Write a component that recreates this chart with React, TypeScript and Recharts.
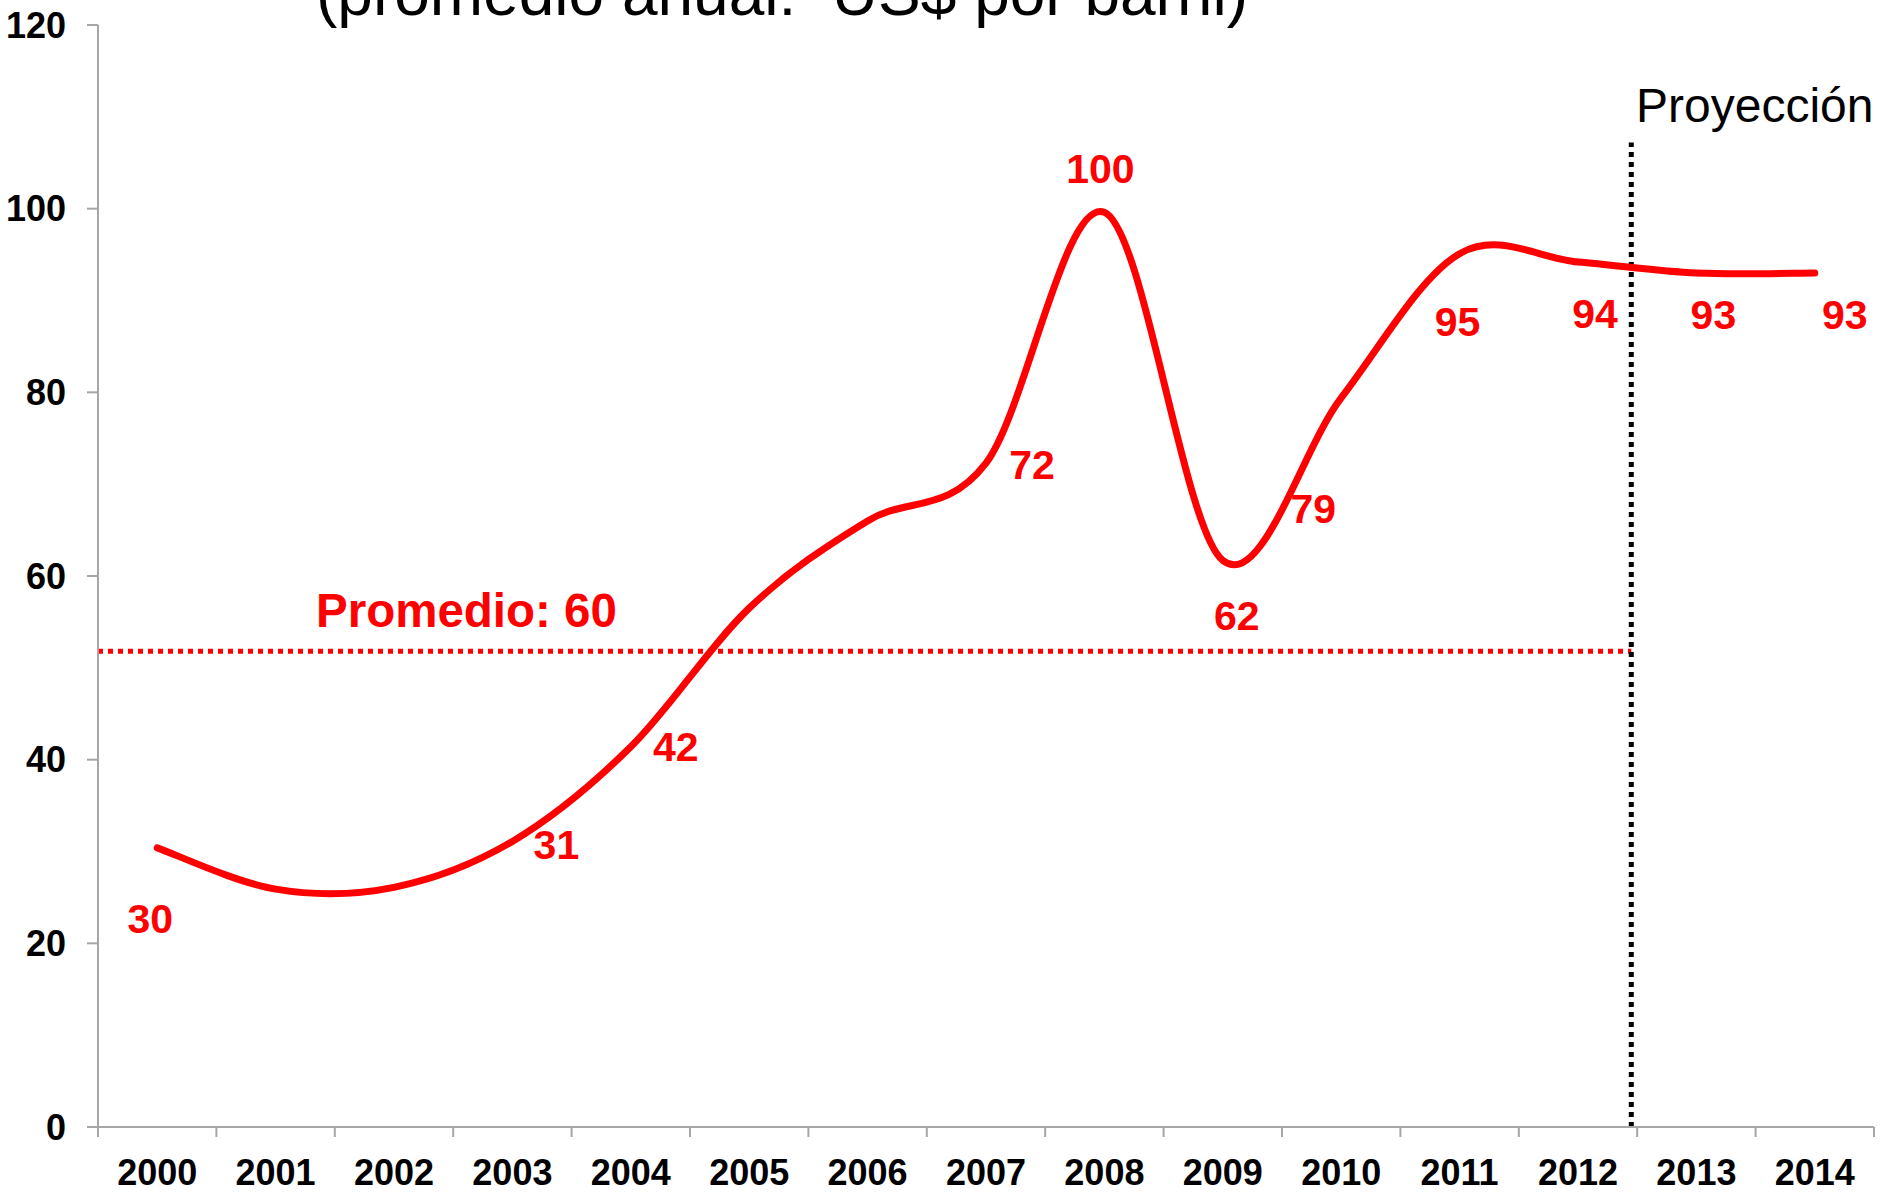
import React from "react";
import { LineChart, Line, XAxis, YAxis, ReferenceLine, LabelList } from "recharts";

const years = ["2000", "2001", "2002", "2003", "2004", "2005", "2006", "2007", "2008", "2009", "2010", "2011", "2012", "2013", "2014"];
const prices = [30.4, 25.9, 26.1, 31.1, 41.4, 56.5, 66.0, 72.3, 99.6, 61.7, 79.4, 95.1, 94.2, 93.0, 93.0];
const pointLabels = ["30", "", "", "31", "42", "", "", "72", "100", "62", "79", "95", "94", "93", "93"];
const yTicks = [0, 20, 40, 60, 80, 100, 120];
const averageLevel = 51.8;
const averageText = "Promedio: 60";
const projectionStart = 12.45;
const projectionTop = 107.2;
const titleText = "(promedio anual:  US$ por barril)";
const projectionText = "Proyección";

// label offsets (px) from each point, mimicking hand-placed labels
const labelOffsets: [number, number][] = [
  [-7, 71], [0, 0], [0, 0], [44, 3], [45, 0], [0, 0], [0, 0], [46, 1],
  [-4, -44], [14, 55], [-28, 111], [-2, 68], [17, 52], [17, 41], [30, 41],
];

const tableData = years.map((year, i) => ({ i, year, price: prices[i] }));
const boundaryTicks = Array.from({ length: years.length + 1 }, (_, k) => k - 0.5);
const centerTicks = years.map((_, i) => i);

const FONT = "'Liberation Sans', Arial, sans-serif";

// Excel-like smoothing (uniform Catmull-Rom as cubic Bezier)
function excelSmooth(context: any) {
  let pts: [number, number][] = [];
  return {
    areaStart() {},
    areaEnd() {},
    lineStart() {
      pts = [];
    },
    point(x: number, y: number) {
      pts.push([+x, +y]);
    },
    lineEnd() {
      const n = pts.length;
      if (n === 0) return;
      context.moveTo(pts[0][0], pts[0][1]);
      for (let k = 0; k < n - 1; k++) {
        const p0 = pts[Math.max(k - 1, 0)];
        const p1 = pts[k];
        const p2 = pts[k + 1];
        const p3 = pts[Math.min(k + 2, n - 1)];
        context.bezierCurveTo(
          p1[0] + (p2[0] - p0[0]) / 6,
          p1[1] + (p2[1] - p0[1]) / 6,
          p2[0] - (p3[0] - p1[0]) / 6,
          p2[1] - (p3[1] - p1[1]) / 6,
          p2[0],
          p2[1]
        );
      }
    },
  };
}

const renderPointLabel = (props: any) => {
  const { x, y, index } = props;
  const text = pointLabels[index];
  if (!text) return null;
  const [dx, dy] = labelOffsets[index];
  return (
    <text
      key={`pl-${index}`}
      x={x + dx}
      y={y + dy}
      dy="0.355em"
      textAnchor="middle"
      fill="#FF0000"
      fontFamily={FONT}
      fontWeight="bold"
      fontSize={41}
    >
      {text}
    </text>
  );
};

export default function App() {
  return (
    <div style={{ position: "absolute", left: 0, top: 0, width: 1882, height: 1192, background: "#fff" }}>
      <LineChart
        width={1882}
        height={1192}
        data={tableData}
        margin={{ top: 25, right: 8, left: 0, bottom: 0 }}
      >
        <XAxis
          xAxisId="bounds"
          type="number"
          dataKey="i"
          domain={[-0.5, 14.5]}
          ticks={boundaryTicks}
          tickFormatter={() => ""}
          tickSize={10}
          height={1}
          stroke="#A6A6A6"
          strokeWidth={2}
          interval={0}
          allowDataOverflow
        />
        <XAxis
          xAxisId="labels"
          type="number"
          dataKey="i"
          domain={[-0.5, 14.5]}
          ticks={centerTicks}
          tickFormatter={(v: number) => years[v]}
          axisLine={false}
          tickLine={false}
          tickSize={0}
          tickMargin={31}
          height={64}
          interval={0}
          allowDataOverflow
          tick={{ fill: "#000", fontFamily: FONT, fontWeight: "bold", fontSize: 36 }}
        />
        <YAxis
          type="number"
          domain={[0, 120]}
          ticks={yTicks}
          interval={0}
          width={98}
          tickSize={11}
          tickMargin={21}
          stroke="#A6A6A6"
          strokeWidth={2}
          tick={{ fill: "#000", fontFamily: FONT, fontWeight: "bold", fontSize: 36 }}
        />
        <ReferenceLine
          xAxisId="labels"
          segment={[{ x: -0.5, y: averageLevel }, { x: projectionStart, y: averageLevel }]}
          stroke="#FF0000"
          strokeWidth={5}
          strokeDasharray="5 5"
          ifOverflow="visible"
        />
        <ReferenceLine
          xAxisId="labels"
          segment={[{ x: projectionStart, y: 0 }, { x: projectionStart, y: projectionTop }]}
          stroke="#000"
          strokeWidth={5}
          strokeDasharray="5 5"
          ifOverflow="visible"
        />
        <Line
          xAxisId="labels"
          dataKey="price"
          type={excelSmooth as any}
          stroke="#FF0000"
          strokeWidth={7}
          strokeLinecap="round"
          dot={false}
          activeDot={false}
          isAnimationActive={false}
        >
          <LabelList dataKey="price" content={renderPointLabel} />
        </Line>
      </LineChart>
      <svg
        width={1882}
        height={1192}
        style={{ position: "absolute", left: 0, top: 0, pointerEvents: "none" }}
      >
        <text x={316} y={15} fontFamily={FONT} fontSize={64} fill="#000" style={{ whiteSpace: "pre" }}>
          {titleText}
        </text>
        <text x={1636} y={122} fontFamily={FONT} fontSize={48} fill="#000">
          {projectionText}
        </text>
        <text x={316} y={627} fontFamily={FONT} fontSize={47.5} fontWeight="bold" fill="#FF0000">
          {averageText}
        </text>
      </svg>
    </div>
  );
}
